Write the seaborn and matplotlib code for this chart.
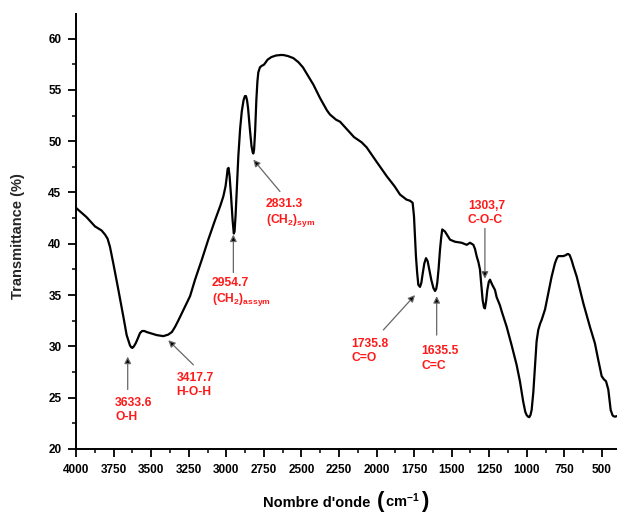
import matplotlib
matplotlib.use("Agg")
import matplotlib.pyplot as plt
from matplotlib.ticker import MultipleLocator
from matplotlib.offsetbox import TextArea, HPacker, AnnotationBbox
import seaborn as sns
import pandas as pd

# FTIR spectrum: wavenumber (cm-1) and transmittance (%)
wavenumber = [
    4000, 3930, 3874, 3830, 3807, 3790, 3774, 3752, 3718, 3685, 3663, 3641,
    3632, 3625, 3615, 3603, 3588, 3574, 3560, 3545, 3530, 3508, 3463, 3419,
    3386, 3362, 3341, 3320, 3297, 3270, 3241, 3208, 3164, 3120, 3075, 3040,
    3020, 3005, 2997, 2991, 2985, 2978, 2968, 2958, 2950, 2945, 2938, 2928,
    2920, 2908, 2897, 2885, 2876, 2869, 2862, 2855, 2842, 2832, 2824, 2820,
    2815, 2808, 2800, 2793, 2787, 2776, 2764, 2750, 2742, 2725, 2700, 2670,
    2640, 2620, 2590, 2554, 2520, 2490, 2465, 2420, 2376, 2330, 2310, 2270,
    2243, 2200, 2150, 2100, 2066, 2000, 1933, 1880, 1844, 1800, 1778, 1760,
    1751, 1744, 1738, 1730, 1722, 1711, 1702, 1693, 1682, 1671, 1660, 1649,
    1636, 1622, 1611, 1603, 1596, 1587, 1578, 1570, 1563, 1545, 1511, 1478,
    1434, 1400, 1378, 1356, 1345, 1334, 1322, 1312, 1302, 1294, 1285, 1279,
    1271, 1263, 1253, 1245, 1230, 1212, 1201, 1179, 1167, 1134, 1101, 1068,
    1046, 1024, 1010, 1001, 992, 984, 976, 968, 957, 946, 935, 924, 912, 901,
    879, 857, 835, 813, 800, 791, 775, 757, 740, 730, 724, 715, 702, 690, 668,
    624, 580, 547, 525, 502, 488, 473, 458, 442, 430, 424, 413, 402,
]
transmittance = [
    43.5, 42.6, 41.7, 41.3, 40.9, 40.5, 39.7, 38.1, 35.5, 32.9, 31.1, 30.1,
    29.9, 29.85, 30.0, 30.3, 30.8, 31.3, 31.5, 31.5, 31.4, 31.3, 31.1, 31.0,
    31.15, 31.4, 31.9, 32.5, 33.2, 34.0, 34.9, 36.5, 38.4, 40.4, 42.3, 43.7,
    44.6, 45.6, 46.5, 47.3, 47.4, 46.6, 44.6, 42.3, 41.0, 41.2, 42.8, 46.0,
    48.5, 51.2, 52.9, 54.0, 54.4, 54.4, 54.0, 53.2, 51.0, 49.5, 48.9, 48.8,
    49.2, 51.0, 54.0, 55.8, 56.7, 57.2, 57.35, 57.45, 57.6, 57.95, 58.2, 58.35,
    58.4, 58.4, 58.3, 58.1, 57.7, 57.2, 56.6, 55.5, 54.2, 53.0, 52.6, 52.1,
    51.9, 51.2, 50.4, 49.9, 49.4, 48.0, 46.6, 45.6, 44.8, 44.3, 44.2, 44.0,
    42.7, 40.5, 38.8, 37.2, 36.0, 35.8, 36.2, 37.1, 38.1, 38.6, 38.3, 37.5,
    36.5, 35.7, 35.4, 35.6, 36.2, 37.6, 39.4, 40.6, 41.4, 41.2, 40.4, 40.2,
    40.1, 39.9, 40.1, 39.9, 39.5, 38.8, 38.2, 37.5, 35.8, 34.5, 33.8, 33.7,
    34.4, 35.5, 36.3, 36.5, 36.0, 35.5, 34.8, 34.0, 33.4, 31.9, 30.1, 28.2,
    26.6, 24.6, 23.6, 23.3, 23.15, 23.1, 23.3, 23.8, 25.5, 28.0, 30.5, 31.6,
    32.2, 32.6, 33.6, 35.2, 36.8, 38.1, 38.6, 38.8, 38.8, 38.8, 38.9, 39.0,
    39.0, 38.9, 38.4, 37.8, 36.8, 34.2, 31.9, 30.3, 28.7, 27.1, 26.8, 26.6,
    25.8, 23.8, 23.3, 23.2, 23.15, 23.2,
]

# Band assignments: label, arrow tip (wn, T), arrow tail (wn, T), text anchor (wn, T)
band_labels = ["3633.6\nO-H", "3417.7\nH-O-H",
               "2954.7\n(CH$_{\\mathbf{2}}$)$_{\\mathbf{assym}}$",
               "2831.3\n(CH$_{\\mathbf{2}}$)$_{\\mathbf{sym}}$",
               "1735.8\nC=O", "1635.5\nC=C", "1303,7\nC-O-C"]
arrow_tips = [(3656, 29.0), (3386, 30.6), (2953, 40.9), (2820, 48.2),
              (1744, 35.0), (1600, 34.9), (1279, 36.6)]
arrow_tails = [(3656, 25.8), (3219, 28.2), (2953, 37.2), (2643, 45.1),
               (1955, 31.6), (1600, 31.1), (1279, 41.5)]
text_anchors = [(3740, 25.1), (3330, 27.5), (3095, 36.8), (2736, 44.5),
                (2170, 30.8), (1704, 30.1), (1392, 44.3)]

sns.set_style("ticks")
plt.rcParams["font.family"] = ["Liberation Sans", "DejaVu Sans"]
plt.rcParams["font.weight"] = "bold"
plt.rcParams["mathtext.fontset"] = "custom"
plt.rcParams["mathtext.rm"] = "Liberation Sans:bold"
plt.rcParams["mathtext.bf"] = "Liberation Sans:bold"
plt.rcParams["mathtext.it"] = "Liberation Sans:bold"

fig = plt.figure(figsize=(6.17, 5.14), dpi=100)
ax = fig.add_axes([0.1232, 0.1265, 0.8768, 0.8463])

df = pd.DataFrame({"wn": wavenumber, "T": transmittance})
sns.lineplot(data=df, x="wn", y="T", sort=False, estimator=None,
             color="black", linewidth=1.6, ax=ax)
ax.lines[0].set_solid_joinstyle("round")

ax.set_xlim(4000, 400)
ax.set_ylim(20, 62.4)
ax.xaxis.set_major_locator(MultipleLocator(250))
ax.xaxis.set_minor_locator(MultipleLocator(125))
ax.yaxis.set_major_locator(MultipleLocator(5))
ax.yaxis.set_minor_locator(MultipleLocator(2.5))
ax.tick_params(which="major", direction="out", length=6, width=1.3,
               labelsize=8.5, color="black", labelcolor="black", pad=4.5)
ax.tick_params(which="minor", direction="out", length=3, width=1.1, color="black")
for lab in ax.get_xticklabels() + ax.get_yticklabels():
    lab.set_fontweight("bold")

sns.despine(ax=ax)
for side in ["left", "bottom"]:
    ax.spines[side].set_linewidth(1.4)
    ax.spines[side].set_color("black")

ax.set_ylabel("Transmittance (%)", fontsize=10.5, fontweight="bold")
ax.yaxis.set_label_coords(-0.094, 0.49)
ax.set_xlabel("")

# x-axis title with enlarged parentheses
title_props = dict(fontsize=10.5, fontweight="bold", color="black")
paren_props = dict(fontsize=16, fontweight="bold", color="black")
xtitle = HPacker(children=[TextArea("Nombre d'onde ", textprops=title_props),
                           TextArea("(", textprops=paren_props),
                           TextArea("cm$^{\\mathbf{-1}}$", textprops=title_props),
                           TextArea(")", textprops=paren_props)],
                 align="baseline", pad=0, sep=1)
fig.add_artist(AnnotationBbox(xtitle, (0.5608, 0.004), xycoords="figure fraction",
                              box_alignment=(0.5, 0.0), frameon=False, pad=0))

for label, tip, tail, anchor in zip(band_labels, arrow_tips, arrow_tails, text_anchors):
    ax.annotate("", xy=tip, xytext=tail,
                arrowprops=dict(arrowstyle="-|>", ec="#666666", fc="black",
                                lw=0.9, mutation_scale=10, shrinkA=0, shrinkB=0))
    ax.text(anchor[0], anchor[1], label, color="#ff1a1a", fontsize=8.7,
            fontweight="bold", ha="left", va="top", linespacing=1.25)

fig.savefig("out.png", dpi=100)
